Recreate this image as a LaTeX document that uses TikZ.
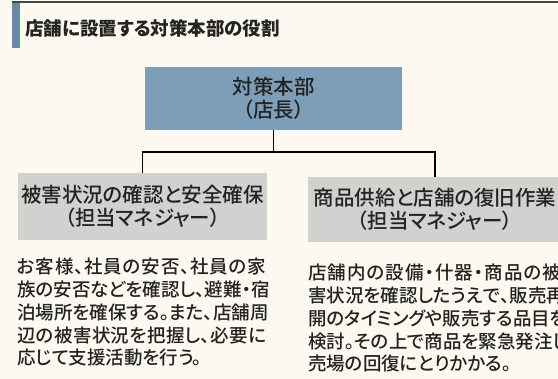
\documentclass[tikz,border=0pt]{standalone}
\usepackage{fontspec}
\setmainfont{Noto Sans CJK JP}[RawFeature=+palt]
\newfontfamily\jpmedium{Noto Sans CJK JP Medium}[RawFeature=+palt]

\definecolor{paper}{RGB}{251,249,240}
\definecolor{rulegray}{RGB}{70,70,70}
\definecolor{barblue}{RGB}{104,137,163}
\definecolor{hqblue}{RGB}{124,158,184}
\definecolor{boxgray}{RGB}{209,209,207}
\definecolor{ink}{RGB}{35,35,35}

% spread the characters of one line over a fixed width
\def\spreadchars#1#2\endspread{#1\if\relax\detokenize{#2}\relax\else\hskip 0pt plus 1fil\spreadchars#2\endspread\fi}
\newcommand\fullline[2]{\hbox to #1{\spreadchars#2\endspread}}

\tikzset{
  rolebox/.style={fill=boxgray, inner sep=0pt, align=center, font=\jpmedium\fontsize{20.5}{23}\selectfont},
  dutytext/.style={anchor=north west, inner sep=0pt, align=left, font=\jpmedium\fontsize{18.5}{22.75}\selectfont},
  link/.style={black, line width=1.1pt},
}

\begin{document}
\begin{tikzpicture}[x=1pt,y=-1pt,text=ink]
    \useasboundingbox (0,0) rectangle (558,379);
    \clip (0,0) rectangle (558,379);
    \fill[paper] (0,0) rectangle (558,379);
    \fill[rulegray] (12,0.8) rectangle (558,3);
    \fill[barblue] (12,3) rectangle (20,48);
    \node[anchor=west, inner sep=0pt, font=\fontsize{18.5}{22}\selectfont\bfseries] (title) at (25,28) {店舗に設置する対策本部の役割};
    \node[rolebox, fill=hqblue, minimum width=257pt, minimum height=63pt] (hq) at (273.5,98.5) {対策本部\\（店長）};
    \node[rolebox, minimum width=249pt, minimum height=67pt] (damage) at (142.5,206.5) {被害状況の確認と安全確保\\（担当マネジャー）};
    \node[rolebox, minimum width=254pt, minimum height=65pt] (restore) at (435,209.5) {商品供給と店舗の復旧作業\\（担当マネジャー）};
    \coordinate (bus) at (0,152);
    \draw[link] (hq.south) -- (hq.south |- bus);
    \draw[link] (damage.north) -- (damage.north |- bus) -- (restore.north |- bus) -- (restore.north);
    \node[dutytext] (damagetext) at (17,258) {\fullline{249pt}{お客様、社員の安否、社員の家}\\
        \fullline{249pt}{族の安否などを確認し、避難・宿}\\
        \fullline{249pt}{泊場所を確保する。また、店舗周}\\
        \fullline{249pt}{辺の被害状況を把握し、必要に}\\
        応じて支援活動を行う。};
    \node[dutytext] (restoretext) at (308,264) {\fullline{253pt}{店舗内の設備・什器・商品の被}\\
        \fullline{253pt}{害状況を確認したうえで、販売再}\\
        \fullline{253pt}{開のタイミングや販売する品目を}\\
        \fullline{253pt}{検討。その上で商品を緊急発注し、}\\
        売場の回復にとりかかる。};
\end{tikzpicture}
\end{document}
